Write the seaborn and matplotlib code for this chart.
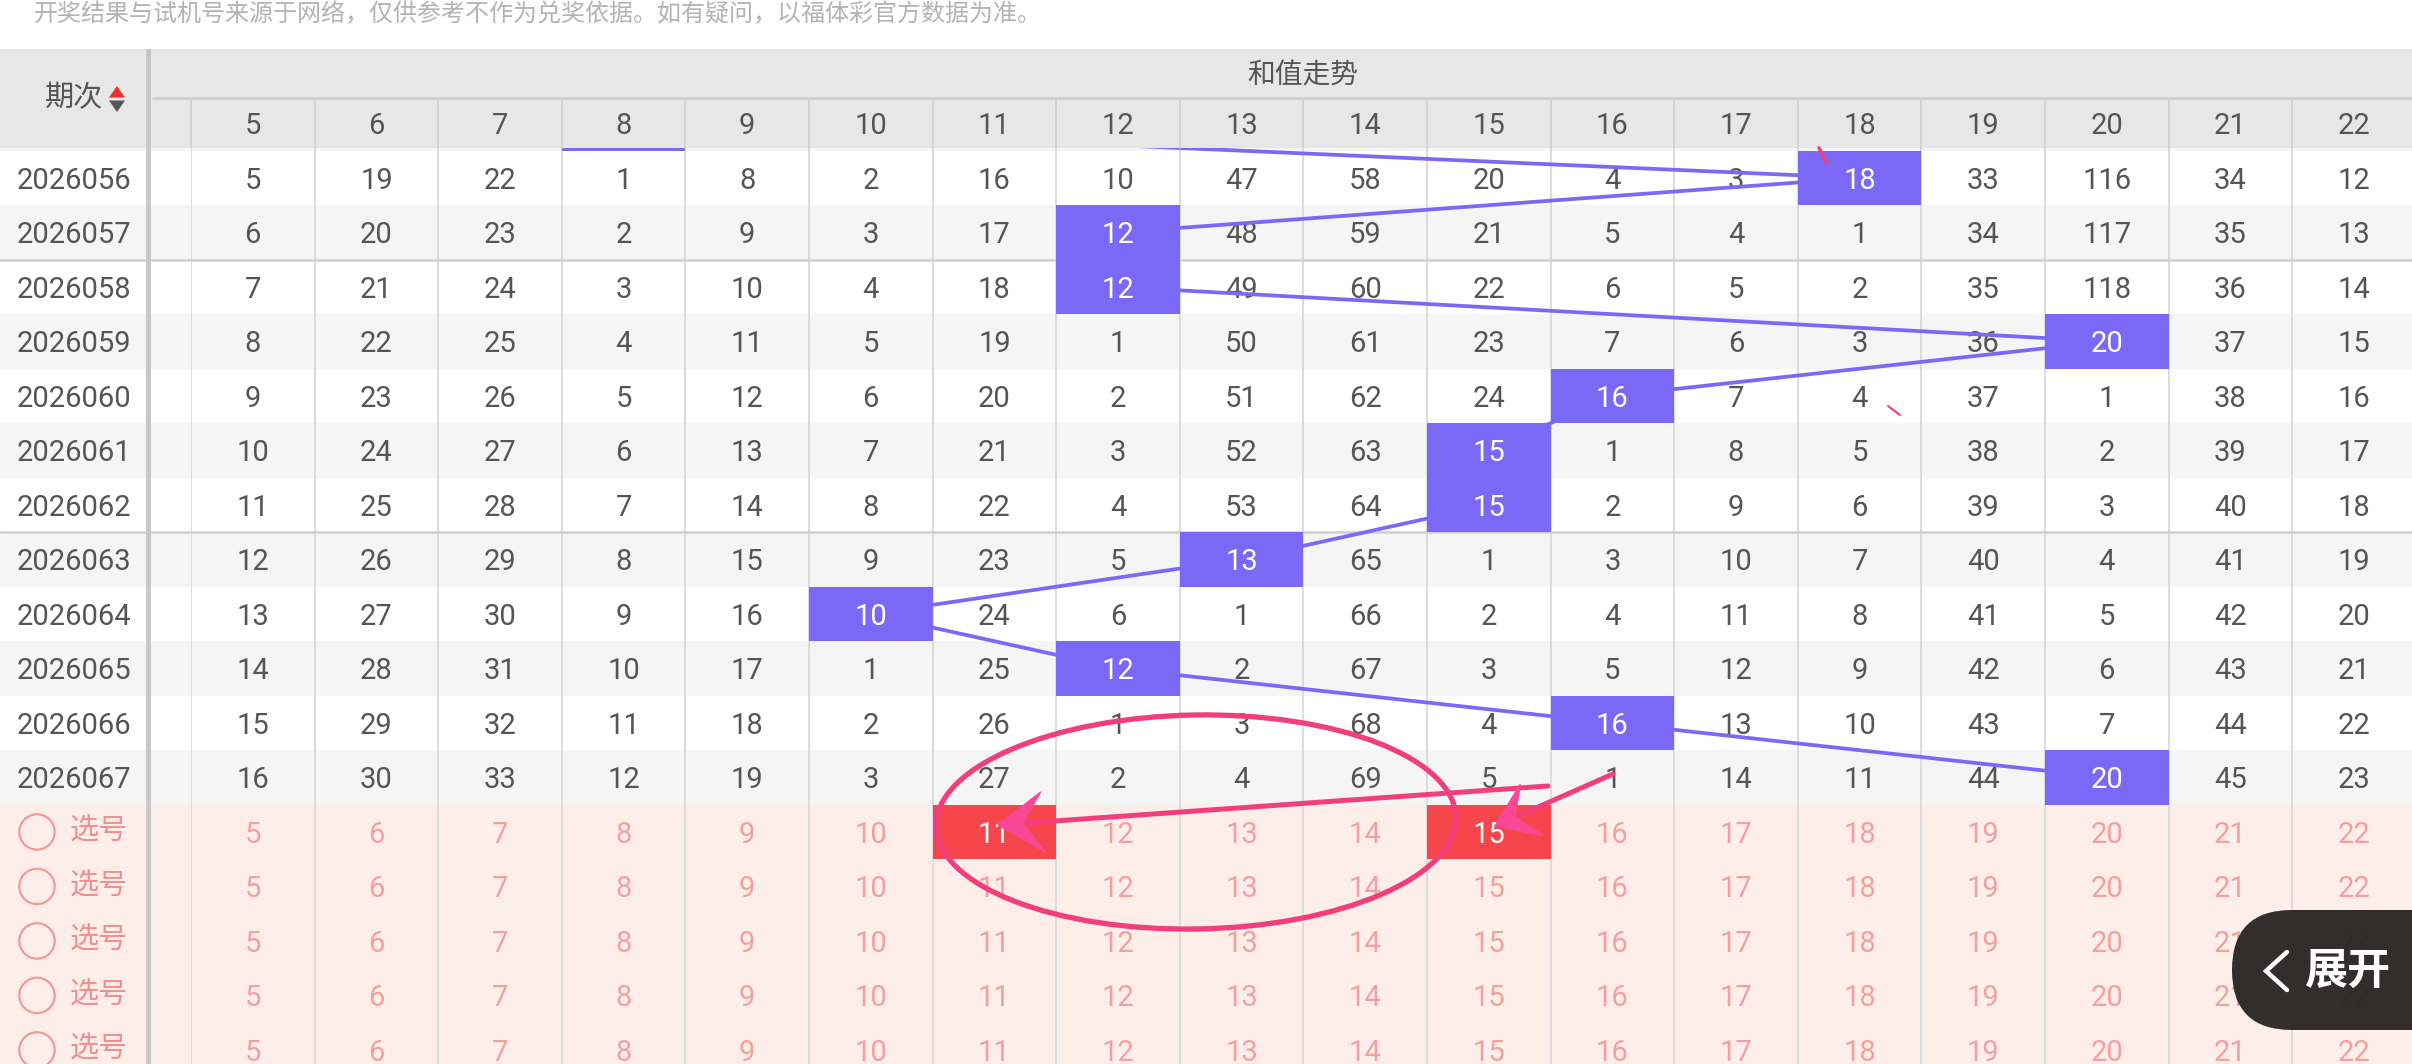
import numpy as np
import pandas as pd
import matplotlib
matplotlib.use("Agg")
import matplotlib.pyplot as plt
import matplotlib.transforms as mtransforms
from matplotlib.colors import ListedColormap
from matplotlib.patches import Rectangle, Ellipse, Circle, FancyBboxPatch, Polygon
import seaborn as sns

sns.set_theme(style="white")
plt.rcParams["font.family"] = ["Roboto", "Noto Sans CJK SC", "DejaVu Sans"]
CJK = ["Noto Sans CJK SC", "DejaVu Sans"]

# ---------------- data ----------------
notice = "开奖结果与试机号来源于网络，仅供参考不作为兑奖依据。如有疑问，以福体彩官方数据为准。"
period_header = "期次"
section_title = "和值走势"
select_label = "选号"
expand_label = "展开"

sum_values = list(range(5, 23))
periods = ["2026056", "2026057", "2026058", "2026059", "2026060", "2026061",
           "2026062", "2026063", "2026064", "2026065", "2026066", "2026067"]
prev_hit_sum = 8            # 2026055, scrolled under the sticky header
hit_sums = [18, 12, 12, 20, 16, 15, 15, 13, 10, 12, 16, 20]
table = [
    [5, 19, 22, 1, 8, 2, 16, 10, 47, 58, 20, 4, 3, 18, 33, 116, 34, 12],
    [6, 20, 23, 2, 9, 3, 17, 12, 48, 59, 21, 5, 4, 1, 34, 117, 35, 13],
    [7, 21, 24, 3, 10, 4, 18, 12, 49, 60, 22, 6, 5, 2, 35, 118, 36, 14],
    [8, 22, 25, 4, 11, 5, 19, 1, 50, 61, 23, 7, 6, 3, 36, 20, 37, 15],
    [9, 23, 26, 5, 12, 6, 20, 2, 51, 62, 24, 16, 7, 4, 37, 1, 38, 16],
    [10, 24, 27, 6, 13, 7, 21, 3, 52, 63, 15, 1, 8, 5, 38, 2, 39, 17],
    [11, 25, 28, 7, 14, 8, 22, 4, 53, 64, 15, 2, 9, 6, 39, 3, 40, 18],
    [12, 26, 29, 8, 15, 9, 23, 5, 13, 65, 1, 3, 10, 7, 40, 4, 41, 19],
    [13, 27, 30, 9, 16, 10, 24, 6, 1, 66, 2, 4, 11, 8, 41, 5, 42, 20],
    [14, 28, 31, 10, 17, 1, 25, 12, 2, 67, 3, 5, 12, 9, 42, 6, 43, 21],
    [15, 29, 32, 11, 18, 2, 26, 1, 3, 68, 4, 16, 13, 10, 43, 7, 44, 22],
    [16, 30, 33, 12, 19, 3, 27, 2, 4, 69, 5, 1, 14, 11, 44, 20, 45, 23],
]
n_select = 5
picked_sums = [11, 15]

# ---------------- layout (pixels) ----------------
W, H = 2412, 1064
ROW_H = 54.5
ROW_TOP = 150.7
COL_W = 123.6
COL_LEFT = 191.0
DIV_X = 148.5
HEAD_TOP, HEAD_MID, HEAD_BOT = 49.0, 98.0, 147.7
DY = 0.05  # text baseline correction (rows)

C_TEXT = "#555555"
C_PURPLE = "#7b68f6"
C_RED = "#f6464b"
C_PINK_TXT = "#f3a0a0"
C_PINK = "#f23e7c"
C_PINK_HEAD = "#fa4896"
FS = 21

n_data = len(periods)
n_rows = 1 + n_data + n_select
n_cols = len(sum_values)
grid_top = ROW_TOP - ROW_H
grid_h = n_rows * ROW_H
bottom = 1 - (grid_top + grid_h) / H

fig = plt.figure(figsize=(W / 100, H / 100), dpi=100, facecolor="white")
ax_grid = fig.add_axes([COL_LEFT / W, bottom, n_cols * COL_W / W, grid_h / H])
ax_left = fig.add_axes([0, bottom, COL_LEFT / W, grid_h / H])
ax_ov = fig.add_axes([0, 0, 1, 1])
ax_ov.set_zorder(10)

# background codes: 0 white, 1 light gray, 2 select rows
bg = np.zeros((n_rows, n_cols))
for r in range(1 + n_data):
    bg[r, :] = 1 if r % 2 == 0 else 0
bg[1 + n_data:, :] = 2
bg_cmap = ListedColormap(["#ffffff", "#f5f5f5", "#fdeee9"])

sns.heatmap(bg, ax=ax_grid, cmap=bg_cmap, vmin=-0.5, vmax=2.5, cbar=False,
            xticklabels=False, yticklabels=False)

marks = np.full((n_rows, n_cols), np.nan)
marks[0, sum_values.index(prev_hit_sum)] = 0
for i, h in enumerate(hit_sums):
    marks[i + 1, sum_values.index(h)] = 0
for p in picked_sums:
    marks[1 + n_data, sum_values.index(p)] = 1
sns.heatmap(marks, ax=ax_grid, cmap=ListedColormap([C_PURPLE, C_RED]), vmin=-0.5, vmax=1.5,
            cbar=False, xticklabels=False, yticklabels=False)
ax_grid.collections[-1].set_zorder(5)

for c in range(n_cols + 1):
    ax_grid.axvline(c, color="#dcdcdc", lw=1.4, zorder=2, clip_on=False)
for y in (3, 8):
    ax_grid.axhline(y, color="#d0d0d0", lw=1.8, zorder=2)

for i, row in enumerate(table):
    r = i + 1
    for c, v in enumerate(row):
        hit = sum_values[c] == hit_sums[i]
        ax_grid.text(c + 0.5, r + 0.5 + DY, str(v), ha="center", va="center", fontsize=FS,
                     color="white" if hit else C_TEXT, zorder=7 if hit else 3)

for s in range(n_select):
    r = 1 + n_data + s
    for c, v in enumerate(sum_values):
        picked = s == 0 and v in picked_sums
        ax_grid.text(c + 0.5, r + 0.5 + DY, str(v), ha="center", va="center", fontsize=FS,
                     color="white" if picked else C_PINK_TXT, zorder=7 if picked else 3)

trend = pd.DataFrame({
    "col": [sum_values.index(h) + 0.5 for h in [prev_hit_sum] + hit_sums],
    "row": [r + 0.5 for r in range(1 + n_data)],
})
sns.lineplot(data=trend, x="col", y="row", sort=False, estimator=None, color=C_PURPLE,
             linewidth=2.7, ax=ax_grid, zorder=4)
ax_grid.set_xlim(0, n_cols)
ax_grid.set_ylim(n_rows, 0)
ax_grid.axis("off")

# left column
sns.heatmap(bg[:, :1], ax=ax_left, cmap=bg_cmap, vmin=-0.5, vmax=2.5, cbar=False,
            xticklabels=False, yticklabels=False)
for y in (3, 8):
    ax_left.axhline(y, color="#d0d0d0", lw=1.8, zorder=2)
for i, p in enumerate(periods):
    ax_left.text(74 / COL_LEFT, i + 1.5 + DY, p, ha="center", va="center", fontsize=FS, color=C_TEXT)
ax_left.set_xlim(0, 1)
ax_left.set_ylim(n_rows, 0)
ax_left.axis("off")

# overlay (pixel coordinates)
ax_ov.set_xlim(0, W)
ax_ov.set_ylim(H, 0)
ax_ov.axis("off")
blend = mtransforms.blended_transform_factory(ax_grid.transData, ax_ov.transData)

ax_ov.add_patch(Rectangle((0, HEAD_TOP), W, HEAD_BOT - HEAD_TOP, facecolor="#e7e7e7", lw=0, zorder=1))
ax_ov.plot([153, W], [HEAD_MID, HEAD_MID], color="#cccccc", lw=1.8, zorder=2)
for c in range(n_cols + 1):
    ax_ov.plot([c, c], [HEAD_MID, HEAD_BOT], transform=blend, color="#d0d0d0", lw=1.2, zorder=2)
for c, v in enumerate(sum_values):
    ax_ov.text(c + 0.5, 126, str(v), transform=blend, ha="center", va="center",
               fontsize=FS, color=C_TEXT, zorder=3)
ax_ov.text(1303, 76, section_title, ha="center", va="center", fontsize=20, color=C_TEXT,
           family=CJK, zorder=3)
ax_ov.text(74, 98, period_header, ha="center", va="center", fontsize=21, color=C_TEXT,
           family=CJK, zorder=3)
ax_ov.add_patch(Polygon([(109, 97.5), (125, 97.5), (117, 86)], closed=True, facecolor="#e8302c", lw=0, zorder=3))
ax_ov.add_patch(Polygon([(109, 100.5), (125, 100.5), (117, 112)], closed=True, facecolor="#555555", lw=0, zorder=3))
ax_ov.add_patch(Rectangle((DIV_X - 2.5, HEAD_TOP), 5, H - HEAD_TOP, facecolor="#c8c8c8", lw=0, zorder=3))

ax_ov.text(34, 14, notice, ha="left", va="center", fontsize=17.3, color="#b3b3b3", family=CJK, zorder=3)

for s in range(n_select):
    y = ROW_TOP + (n_data + s + 0.5) * ROW_H
    ax_ov.add_patch(Circle((37, y), 17.7, fill=False, ec="#f29a9a", lw=1.6, zorder=3))
    ax_ov.text(99, y, select_label, ha="center", va="center", fontsize=21, color="#f08f8f",
               family=CJK, zorder=3)

# hand-drawn annotations
ax_ov.add_patch(Ellipse((1196, 822), 520, 214, angle=-1, fill=False, ec=C_PINK, lw=3.8, zorder=6))


def pink_arrow(start, tip, length=40.0, half_w=29.0, notch=0.55):
    sx, sy = start
    tx, ty = tip
    d = np.hypot(tx - sx, ty - sy)
    ux, uy = (tx - sx) / d, (ty - sy) / d
    nx, ny = -uy, ux
    bx, by = tx - length * ux, ty - length * uy
    mx, my = tx - notch * length * ux, ty - notch * length * uy
    ax_ov.plot([sx, mx], [sy, my], color=C_PINK, lw=3.6, zorder=6, solid_capstyle="round")
    head = [(tx, ty), (bx + half_w * nx, by + half_w * ny), (mx, my),
            (bx - half_w * nx, by - half_w * ny)]
    ax_ov.add_patch(Polygon(head, closed=True, facecolor=C_PINK_HEAD, edgecolor=C_PINK_HEAD,
                            lw=1, zorder=7))


pink_arrow((1548, 786), (998, 825), length=45, half_w=30)
pink_arrow((1613, 774), (1495, 826), length=40, half_w=28)
ax_ov.plot([1819, 1827], [148, 163], color=C_PINK, lw=2.5, zorder=6, solid_capstyle="round")
ax_ov.plot([1888, 1900], [406, 415], color=C_PINK, lw=1.5, zorder=6, solid_capstyle="round")

# expand button
ax_ov.add_patch(FancyBboxPatch((2232, 910), 500, 120, boxstyle="round,pad=0,rounding_size=60",
                               facecolor="#262222", edgecolor="none", alpha=0.94, zorder=8))
ax_ov.plot([2287, 2266, 2287], [952, 971, 990], color="white", lw=3.2, zorder=9,
           solid_capstyle="round", solid_joinstyle="miter")
ax_ov.text(2347, 971, expand_label, ha="center", va="center", fontsize=31, fontweight="bold",
           color="white", family=CJK, zorder=9)

fig.savefig("out.png", dpi=100, facecolor="white")
